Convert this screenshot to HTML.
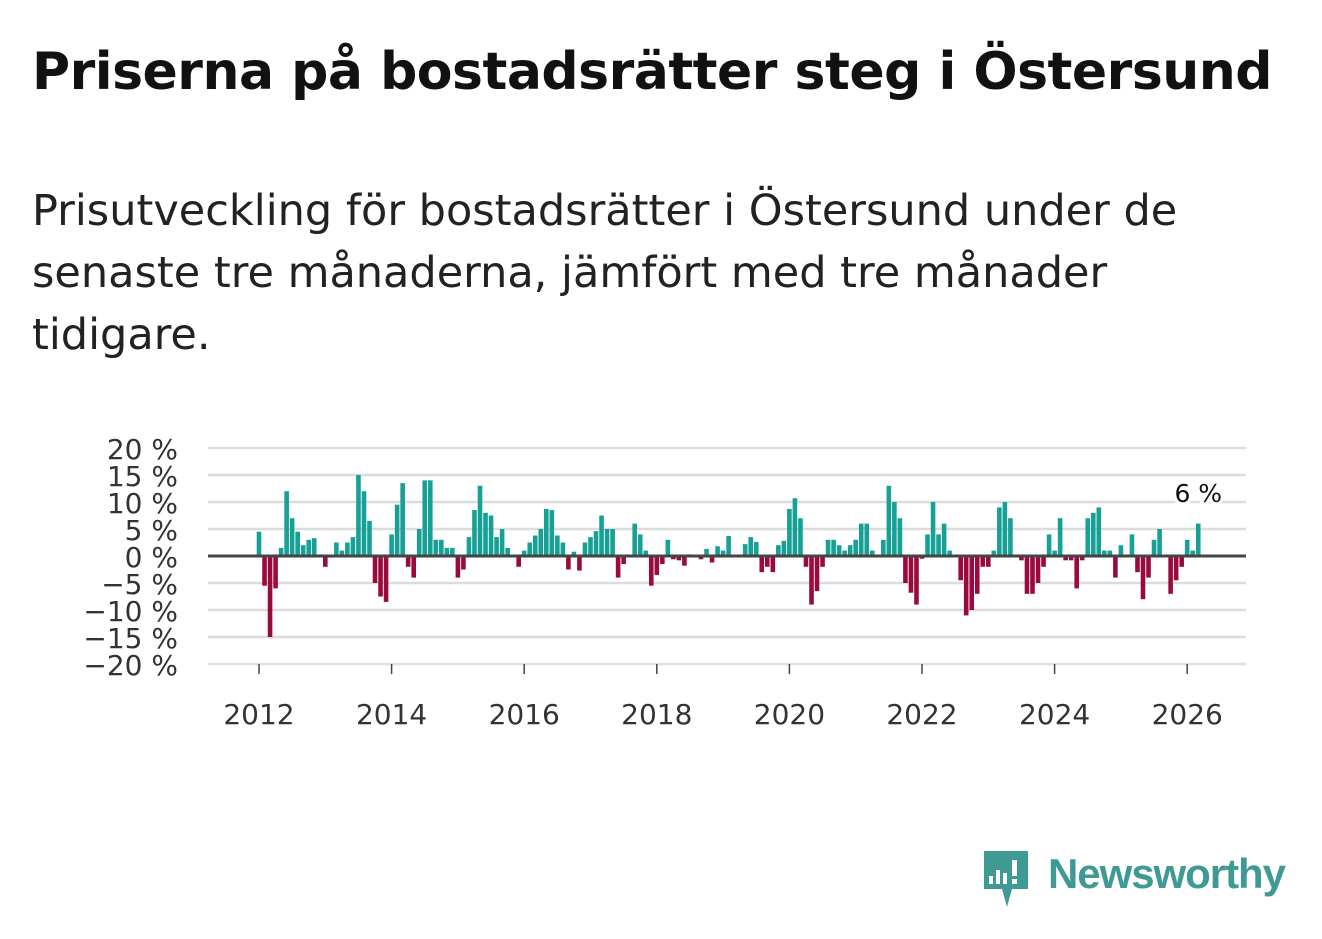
<!DOCTYPE html>
<html><head><meta charset="utf-8"><style>
body{margin:0;width:1322px;height:939px;background:#fff;font-family:"DejaVu Sans","Liberation Sans",sans-serif;position:relative;overflow:hidden;color:#111}
h1{position:absolute;left:32px;top:42px;margin:0;font-size:52px;font-weight:bold;letter-spacing:-0.5px;white-space:nowrap}
p.sub{position:absolute;left:32px;top:180px;margin:0;font-size:43px;line-height:62px;color:#222;width:1220px}
svg{position:absolute;left:0;top:0}
</style></head><body>
<h1>Priserna på bostadsrätter steg i Östersund</h1>
<p class="sub">Prisutveckling för bostadsrätter i Östersund under de senaste tre månaderna, jämfört med tre månader tidigare.</p>
<svg id="chart" width="1322" height="939"></svg>
<svg width="1322" height="939">
<path d="M984 851 h44 v38 h-16 l-5 18 l-5 -18 h-18 z" fill="#3f9a94"/>
<rect x="989" y="876" width="4" height="8" fill="#fff"/><rect x="996" y="870" width="4" height="14" fill="#fff"/><rect x="1003" y="873" width="4" height="11" fill="#fff"/><rect x="1012" y="860" width="5" height="16" fill="#fff"/><rect x="1012" y="879" width="5" height="5" fill="#fff"/>
<text x="1048" y="888" font-size="42" font-weight="bold" fill="#3f9a94" font-family="Liberation Sans, sans-serif" textLength="238">Newsworthy</text>
</svg>
<script>
const years=[2012,2014,2016,2018,2020,2022,2024,2026];
const yTicks=[20,15,10,5,0,-5,-10,-15,-20];
const values=[
4.5,-5.5,-15,-6,1.5,12,7,4.5,2,3,3.3,0.3,
-2,-0.3,2.5,1,2.5,3.5,15,12,6.5,-5,-7.5,-8.5,
4,9.5,13.5,-2,-4,5,14,14,3,3,1.5,1.5,
-4,-2.5,3.5,8.5,13,8,7.5,3.5,5,1.5,0,-2,
1,2.5,3.8,5,8.7,8.5,3.8,2.5,-2.5,0.8,-2.7,2.5,
3.5,4.6,7.5,5,5,-4,-1.5,0,6,4,1,-5.5,
-3.5,-1.5,3,-0.6,-0.8,-1.8,0.3,0,-0.6,1.3,-1.2,1.8,
1,3.7,0,0,2.2,3.5,2.6,-3,-2,-3,2,2.8,
8.7,10.7,7,-2,-9,-6.5,-2,3,3,2,1,2,
3,6,6,1,0,3,13,10,7,-5,-6.8,-9,
-0.5,4,10,4,6,1,0,-4.5,-11,-10,-7,-2,
-2,1,9,10,7,0,-0.8,-7,-7,-5,-2,4,
1,7,-0.8,-0.8,-6,-0.8,7,8,9,1,1,-4,
2,0,4,-3,-8,-4,3,5,0,-7,-4.5,-2,
3,1,6];
const NS='http://www.w3.org/2000/svg';
const svg=document.getElementById('chart');
const x0=259,pxYear=66.3,y0=556,pxPct=5.4;
const xs=i=>x0+i*pxYear/12;
const ys=v=>y0-v*pxPct;
function mk(t,a){const e=document.createElementNS(NS,t);for(const k in a)e.setAttribute(k,a[k]);svg.appendChild(e);return e;}
yTicks.forEach(t=>{
 const g=mk('line',{x1:208,x2:1246,y1:ys(t),y2:ys(t),stroke:'#dcdcdc','stroke-width':2.5});
 
 
 const l=mk('text',{x:178,y:ys(t)+11,'text-anchor':'end','font-size':28,fill:'#333'});
 l.textContent=(t<0?'\u2212'+(-t):t)+' %';
 
 
});
mk('line',{x1:208,x2:1246,y1:664,y2:664,stroke:'#e6e6e6','stroke-width':1});
years.forEach((y,i)=>{
 const x=x0+(y-2012)*pxYear;
 mk('line',{x1:x,x2:x,y1:664,y2:674,stroke:'#444','stroke-width':1.5});
 const l=mk('text',{x:x,y:724,'text-anchor':'middle','font-size':28,fill:'#333'});
 l.textContent=y;
 
 
});
values.forEach((v,i)=>{
 const x=xs(i);
 const r=mk('rect',{x:x-2.3,width:4.6,y:Math.min(ys(v),y0),height:Math.abs(ys(v)-y0),fill:v>=0?'#16a096':'#9b0a3e'});
 
 
});
mk('line',{x1:208,x2:1246,y1:y0,y2:y0,stroke:'#444','stroke-width':3});
const last=values.length-1;
const lbl=mk('text',{x:xs(last),y:502,'text-anchor':'middle','font-size':25,fill:'#111',stroke:'#fff','stroke-width':6,'paint-order':'stroke'});
lbl.textContent=values[last]+' %';


</script>
</body></html>
